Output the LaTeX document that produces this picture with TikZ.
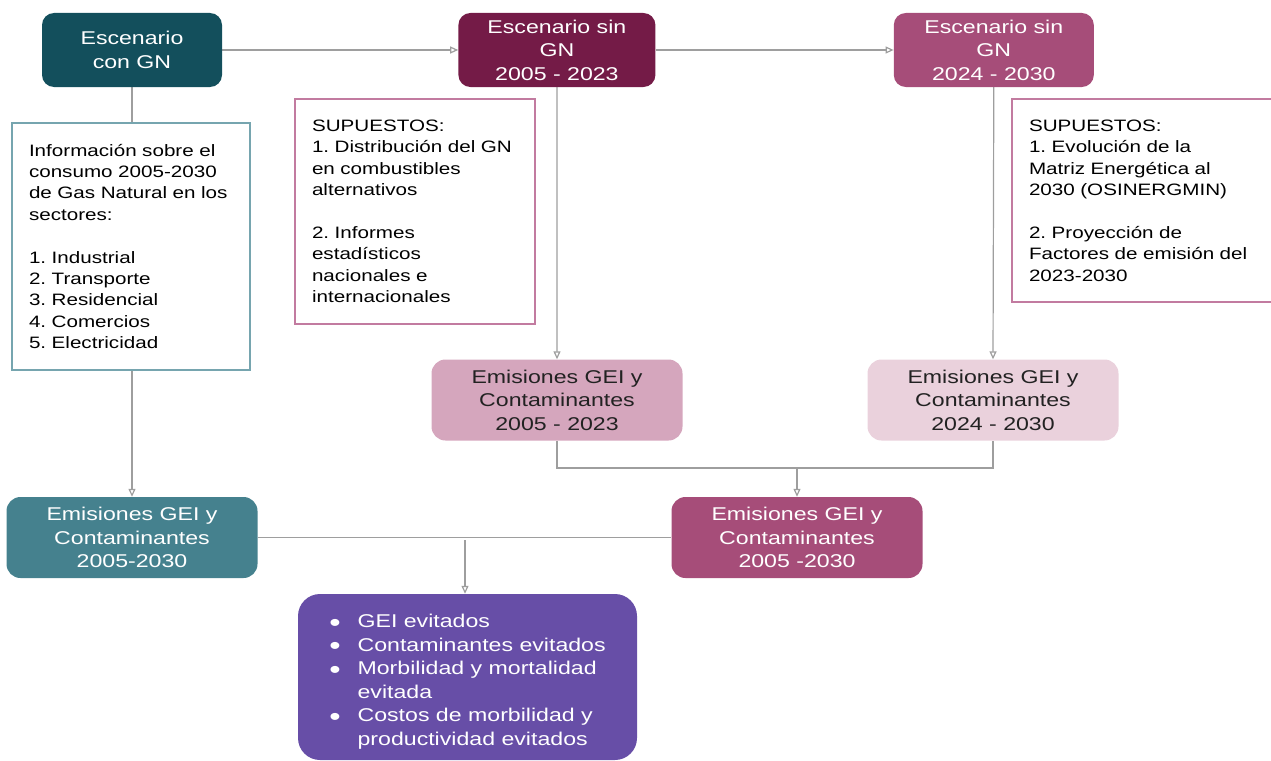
\documentclass[tikz,border=0pt]{standalone}
\usepackage{fontspec}
\setmainfont{Liberation Sans}[FakeStretch=1.25]
\usetikzlibrary{positioning}
\usetikzlibrary{arrows.meta}
\usetikzlibrary{backgrounds}

\definecolor{cyandark}{HTML}{134F5C}
\definecolor{cyanmid}{HTML}{45818E}
\definecolor{cyanlight}{HTML}{76A5AF}
\definecolor{plumdark}{HTML}{741B47}
\definecolor{plummid}{HTML}{A64D79}
\definecolor{plumborder}{HTML}{C27BA0}
\definecolor{plumlight}{HTML}{D5A6BD}
\definecolor{plumpale}{HTML}{EAD1DC}
\definecolor{purplemid}{HTML}{674EA7}
\definecolor{linegray}{HTML}{9E9E9E}
\definecolor{textdark}{HTML}{222222}

\newcommand{\dotitem}{\smash{\raisebox{-3.5pt}{\scalebox{1.4}{\textbullet}}}}
\frenchspacing

\begin{document}
\begin{tikzpicture}[x=1pt, y=1pt,
            roundnode/.style={rectangle, rounded corners=12pt, align=center, text=white, inner sep=0pt,
                              font=\fontsize{18.5}{23.5}\selectfont},
            emisnode/.style={roundnode, rounded corners=14pt, minimum width=251pt, minimum height=81pt},
            notebox/.style={rectangle, draw, line width=1.5pt, fill=white, align=left, text=black,
                            inner xsep=17pt, inner ysep=0pt, font=\fontsize{16.5}{21.4}\selectfont},
            link/.style={draw=linegray, line width=1.2pt},
            arrow/.style={link, -{Triangle[open, length=8pt, width=7pt]}},
        ]
        \useasboundingbox (0,0) rectangle (1271,-760);

        % Nodes.
        \node[roundnode, fill=cyandark, minimum width=180pt, minimum height=74pt] (esc_con) at (132,-50) {Escenario\\con GN};
        \node[roundnode, fill=plumdark, minimum width=197pt, minimum height=74pt] (esc_sin_a) [right=236pt of esc_con] {Escenario sin\\GN\\2005 - 2023};
        \node[roundnode, fill=plummid, minimum width=200pt, minimum height=74pt] (esc_sin_b) [right=238pt of esc_sin_a] {Escenario sin\\GN\\2024 - 2030};

        \node[notebox, draw=cyanlight, text width=204pt, minimum height=247pt] (info_gn) at (131,-246.5)
            {Información sobre el\\consumo 2005-2030\\de Gas Natural en los\\sectores:\\[21.4pt]1. Industrial\\2. Transporte\\3. Residencial\\4. Comercios\\5. Electricidad};
        \node[notebox, draw=plumborder, text width=206pt, minimum height=225pt] (supuestos_a) at (415,-211.5)
            {SUPUESTOS:\\1. Distribución del GN\\en combustibles\\alternativos\\[21.4pt]2. Informes\\estadísticos\\nacionales e\\internacionales};
        \node[notebox, draw=plumborder, text width=230pt, minimum height=203pt] (supuestos_b) at (1144,-200.5)
            {SUPUESTOS:\\1. Evolución de la\\Matriz Energética al\\2030 (OSINERGMIN)\\[21.4pt]2. Proyección de\\Factores de emisión del\\2023-2030};

        \node[emisnode, fill=plumlight, text=textdark] (emis_a) at (557,-400) {Emisiones GEI y\\Contaminantes\\2005 - 2023};
        \node[emisnode, fill=plumpale, text=textdark] (emis_b) at (993,-400) {Emisiones GEI y\\Contaminantes\\2024 - 2030};
        \node[emisnode, fill=cyanmid] (emis_con) at (132,-537.5) {Emisiones GEI y\\Contaminantes\\2005-2030};
        \node[emisnode, fill=plummid] (emis_sin) at (797,-537.5) {Emisiones GEI y\\Contaminantes\\2005 -2030};

        \node[roundnode, rounded corners=22pt, fill=purplemid, minimum width=339pt, minimum height=166pt] (resultados) at (467.5,-677)
            {\raisebox{-5pt}[\height][\depth]{\begin{tabular}{@{}l@{\hspace{17pt}}l@{}}
                \dotitem & GEI evitados\\
                \dotitem & Contaminantes evitados\\
                \dotitem & Morbilidad y mortalidad\\
                         & evitada\\
                \dotitem & Costos de morbilidad y\\
                         & productividad evitados
             \end{tabular}}};

        \coordinate (join_top) at (emis_sin.north |- 0,-468);
        \coordinate (join_bot) at (465,-540);

        % Lines.
        \begin{scope}[on background layer]
            \draw[arrow] (esc_con.east) -- (esc_sin_a.west);
            \draw[arrow] (esc_sin_a.east) -- (esc_sin_b.west);
            \draw[arrow] (esc_con.south) -- (emis_con.north);
            \draw[arrow] (esc_sin_a.south) -- (emis_a.north);
            \draw[arrow] (esc_sin_b.south) -- (emis_b.north);
            \draw[link] (emis_a.south) |- (join_top) -| (emis_b.south);
            \draw[arrow] (join_top) -- (emis_sin.north);
            \draw[link] (emis_con.east) -- (emis_sin.west);
            \draw[arrow] (join_bot) -- (resultados.north -| join_bot);
        \end{scope}
    \end{tikzpicture}
\end{document}
